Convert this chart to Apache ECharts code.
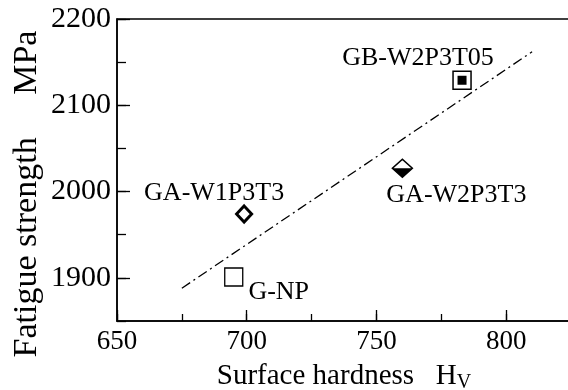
<!DOCTYPE html>
<html>
<head>
<meta charset="utf-8">
<script src="https://cdn.jsdelivr.net/npm/echarts@6/dist/echarts.min.js"></script>
<style>
  html, body { margin: 0; padding: 0; background: #fff; }
  #chart { width: 568px; height: 390px; }
</style>
</head>
<body>
<div id="chart"></div>
<script>
// data
const names = ['G-NP', 'GA-W1P3T3', 'GA-W2P3T3', 'GB-W2P3T05']
const hardness = [695, 699, 760, 783]
const strength = [1901, 1974, 2027, 2129]
const fitHardness = [675, 810]
const fitStrength = [1888, 2162]
const xMajor = [650, 700, 750, 800]
const yMajor = [1900, 2000, 2100, 2200]

const font = 'Liberation Serif'
const ink = '#000'

// label offsets from the marker centre (px)
const labelOffset = {
  'G-NP': [45, 15],
  'GA-W1P3T3': [-30, -21],
  'GA-W2P3T3': [54, 27],
  'GB-W2P3T05': [-44, -22]
}

function point(i) {
  return {
    value: [hardness[i], strength[i]],
    label: {
      show: true,
      position: 'inside',
      offset: labelOffset[names[i]],
      formatter: names[i],
      fontFamily: font,
      fontSize: 26,
      color: ink
    }
  }
}

// only the major values get a label
const xText = v => (xMajor.indexOf(v) >= 0 ? String(v) : '')
const yText = v => (yMajor.indexOf(v) >= 0 ? String(v) : '')

const chart = echarts.init(document.getElementById('chart'))
chart.setOption({
  animation: false,
  textStyle: { fontFamily: font, color: ink },
  grid: {
    left: 117,
    right: -3,
    top: 19,
    bottom: 69,
    outerBoundsMode: 'none',
    show: true,
    borderColor: ink,
    borderWidth: 1.5,
    backgroundColor: 'transparent'
  },
  xAxis: [{
    type: 'value',
    min: 650,
    max: 825,
    interval: 25,
    position: 'bottom',
    splitLine: { show: false },
    axisLine: { lineStyle: { color: ink, width: 1.5 } },
    axisTick: { inside: true, length: 7, lineStyle: { color: ink, width: 1.3 } },
    axisLabel: {
      formatter: xText,
      margin: 7,
      color: ink,
      fontFamily: font,
      fontSize: 27,
      hideOverlap: false,
      showMinLabel: true,
      showMaxLabel: false
    },
    name: '{n|Surface hardness   H}{s|V}',
    nameLocation: 'middle',
    nameGap: 38,
    nameTextStyle: {
      color: ink,
      fontFamily: font,
      rich: {
        n: { fontFamily: font, fontSize: 29, lineHeight: 34, color: ink },
        s: { fontFamily: font, fontSize: 20, lineHeight: 20, verticalAlign: 'bottom', color: ink }
      }
    }
  }, {
    // longer ticks on the labelled values
    type: 'value',
    min: 650,
    max: 825,
    position: 'bottom',
    splitLine: { show: false },
    axisLine: { show: false },
    axisTick: { inside: true, length: 11, customValues: xMajor, lineStyle: { color: ink, width: 1.3 } },
    axisLabel: { show: false }
  }],
  yAxis: [{
    type: 'value',
    min: 1850,
    max: 2200,
    interval: 50,
    position: 'left',
    splitLine: { show: false },
    axisLine: { lineStyle: { color: ink, width: 1.5 } },
    axisTick: { inside: true, length: 9, lineStyle: { color: ink, width: 1.3 } },
    axisLabel: {
      formatter: yText,
      margin: 6,
      color: ink,
      fontFamily: font,
      fontSize: 30,
      hideOverlap: false,
      showMinLabel: true,
      showMaxLabel: true
    }
  }, {
    type: 'value',
    min: 1850,
    max: 2200,
    position: 'left',
    splitLine: { show: false },
    axisLine: { show: false },
    axisTick: { inside: true, length: 13, customValues: yMajor, lineStyle: { color: ink, width: 1.3 } },
    axisLabel: { show: false }
  }],
  graphic: [{
    type: 'text',
    x: 27,
    y: 194,
    rotation: Math.PI / 2,
    style: {
      text: 'Fatigue strength     MPa',
      fontFamily: font,
      fontSize: 34,
      fill: ink,
      align: 'center',
      verticalAlign: 'middle',
      textAlign: 'center',
      textVerticalAlign: 'middle'
    }
  }],
  series: [{
    name: 'fit',
    type: 'line',
    data: fitHardness.map((x, i) => [x, fitStrength[i]]),
    showSymbol: false,
    symbol: 'none',
    lineStyle: { color: ink, width: 1.3, type: [10, 4, 2, 4] },
    z: 1
  }, {
    name: names[0],
    type: 'scatter',
    symbol: 'rect',
    symbolSize: 18,
    itemStyle: { color: '#fff', borderColor: ink, borderWidth: 1.3, opacity: 1 },
    data: [point(0)],
    z: 3
  }, {
    name: names[1],
    type: 'scatter',
    symbol: 'diamond',
    symbolSize: [15, 16],
    itemStyle: { color: '#fff', borderColor: ink, borderWidth: 3, opacity: 1 },
    data: [point(1)],
    z: 3
  }, {
    name: names[2],
    type: 'scatter',
    symbol: 'diamond',
    symbolSize: [20, 18],
    itemStyle: { color: '#fff', borderColor: ink, borderWidth: 1.5, opacity: 1 },
    data: [point(2)],
    z: 3
  }, {
    // filled lower half of the diamond
    name: names[2] + ' half',
    type: 'scatter',
    symbol: 'path://M0,0L2,0L1,1Z',
    symbolSize: [20, 9],
    symbolOffset: [0, 4.5],
    itemStyle: { color: ink, opacity: 1 },
    data: [[hardness[2], strength[2]]],
    z: 4
  }, {
    name: names[3],
    type: 'scatter',
    symbol: 'rect',
    symbolSize: 18,
    itemStyle: { color: '#fff', borderColor: ink, borderWidth: 1.5, opacity: 1 },
    data: [point(3)],
    z: 3
  }, {
    // filled inner square
    name: names[3] + ' core',
    type: 'scatter',
    symbol: 'rect',
    symbolSize: 9,
    itemStyle: { color: ink, opacity: 1 },
    data: [[hardness[3], strength[3]]],
    z: 4
  }]
})
</script>
</body>
</html>
